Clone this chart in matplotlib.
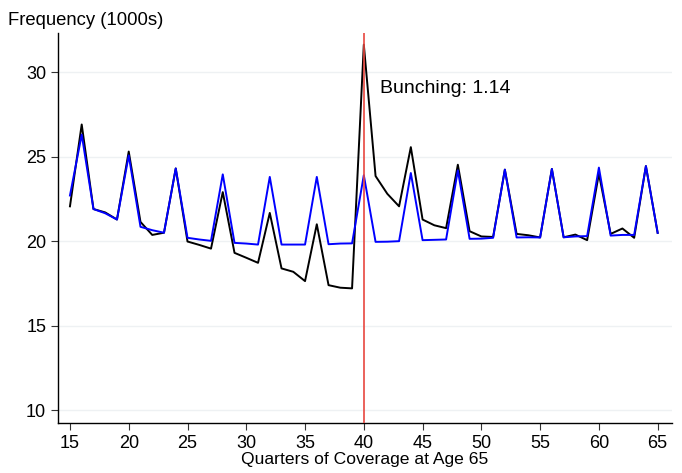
import numpy as np
import matplotlib
matplotlib.use("Agg")
import matplotlib.pyplot as plt

plt.rcParams['font.family'] = ['Liberation Sans', 'DejaVu Sans']

# quarters of coverage at age 65
quarters = list(range(15, 66))

# observed frequency (1000s)
observed = [22.06, 26.9, 21.9, 21.7, 21.28, 25.3, 21.14, 20.37, 20.5, 24.3,
            19.98, 19.78, 19.56, 22.9, 19.31, 19.02, 18.72, 21.67, 18.39, 18.19,
            17.64, 21.0, 17.4, 17.25, 17.21, 31.62, 23.85, 22.8, 22.06, 25.56,
            21.28, 20.94, 20.77, 24.52, 20.59, 20.28, 20.25, 24.23, 20.43, 20.35,
            20.22, 24.27, 20.23, 20.39, 20.06, 23.99, 20.43, 20.75, 20.2, 24.44,
            20.49]

# counterfactual frequency (1000s)
counterfactual = [22.7, 26.3, 21.9, 21.65, 21.28, 25.07, 20.85, 20.65, 20.5, 24.3,
                  20.2, 20.1, 20.02, 23.95, 19.9, 19.86, 19.8, 23.8, 19.8, 19.8,
                  19.8, 23.8, 19.82, 19.86, 19.87, 23.9, 19.96, 19.97, 20.0, 24.03,
                  20.06, 20.08, 20.1, 24.19, 20.14, 20.15, 20.2, 24.23, 20.22, 20.23,
                  20.22, 24.27, 20.23, 20.28, 20.3, 24.35, 20.33, 20.37, 20.37, 24.44,
                  20.49]

threshold = 40
bunching = 1.14

fig = plt.figure(figsize=(6.82, 4.73), dpi=100)
ax = fig.add_axes([0.085, 0.106, 0.900, 0.824])

for y in [10, 15, 20, 25, 30]:
    ax.axhline(y, color='#eef1f3', linewidth=1.0, zorder=0)

ax.plot(quarters, observed, color='black', linewidth=1.4, zorder=3)
ax.plot(quarters, counterfactual, color='#0000ff', linewidth=1.4, zorder=4)
ax.axvline(threshold, color='#e8473f', linewidth=1.2, zorder=5)

ax.text(41.4, 29.0, f'Bunching: {bunching:.2f}', fontsize=14, va='center', ha='left')

ax.set_xlim(13.98, 66.2)
ax.set_ylim(9.26, 32.3)
ax.set_xticks(range(15, 66, 5))
ax.set_yticks([10, 15, 20, 25, 30])
ax.tick_params(axis='both', labelsize=13, direction='out', length=5, width=0.8, color='#333333')

for side in ['top', 'right']:
    ax.spines[side].set_visible(False)
for side in ['left', 'bottom']:
    ax.spines[side].set_linewidth(1.0)

ax.set_xlabel('Quarters of Coverage at Age 65', fontsize=12.6, labelpad=0)
fig.text(0.011, 0.957, 'Frequency (1000s)', fontsize=13.3, ha='left', va='center')

fig.savefig('out.png', dpi=100)
